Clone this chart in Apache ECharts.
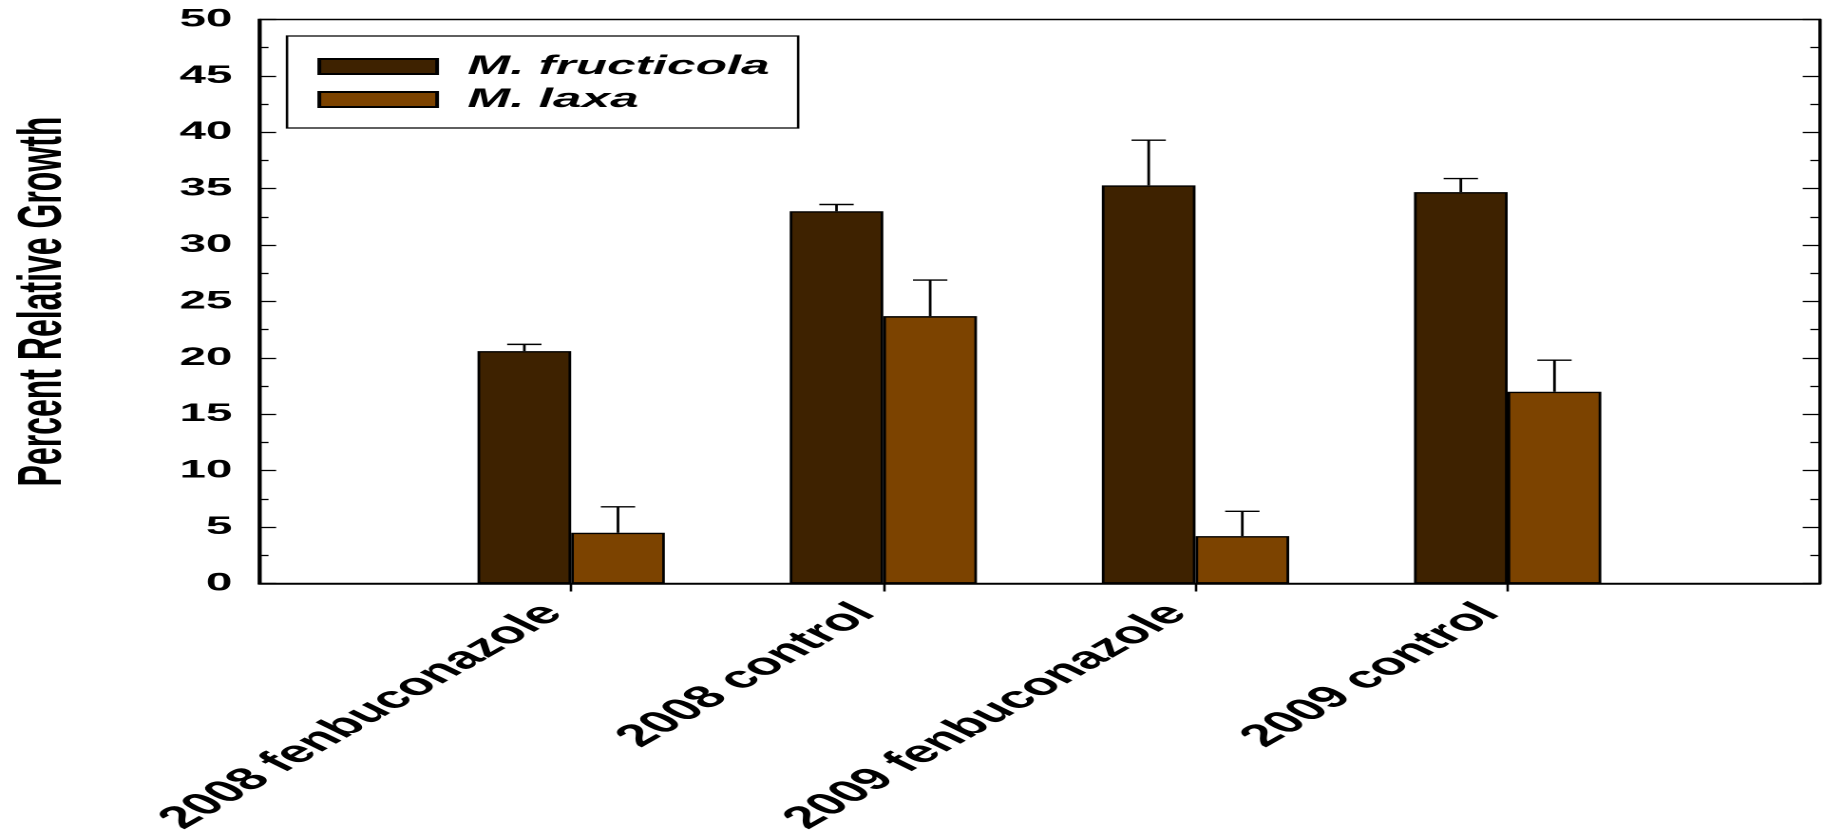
<!DOCTYPE html>
<html>
<head>
<meta charset="utf-8">
<script src="https://cdn.jsdelivr.net/npm/echarts@6/dist/echarts.min.js"></script>
<style>
	html, body { margin: 0; padding: 0; background: #fff; overflow: hidden; }
	#chart { height: 833px; transform-origin: 0 0; }
</style>
</head>
<body>
<div id="chart"></div>
<script>
	// data
	const categories = ['2008 fenbuconazole', '2008 control', '2009 fenbuconazole', '2009 control']
	const fructicola = [20.6, 33.0, 35.3, 34.7]
	const fructicolaErr = [0.6, 0.6, 4.0, 1.2]
	const laxa = [4.5, 23.7, 4.2, 17.0]
	const laxaErr = [2.3, 3.2, 2.2, 2.8]
	const yTicks = [0, 5, 10, 15, 20, 25, 30, 35, 40, 45, 50]

	// the original picture is stretched sideways, so draw narrow and stretch the same way
	const S = 1.9
	const dom = document.getElementById('chart')
	dom.style.width = (1827 / S) + 'px'
	dom.style.transform = 'scaleX(' + S + ')'

	const axisCats = [''].concat(categories, [''])
	const pad = arr => ['-'].concat(arr, ['-'])
	const font = 'Liberation Sans, Arial, sans-serif'

	function errBars(means, errs, side) {
		return {
			type: 'custom',
			silent: true,
			z: 3,
			data: means.map((m, i) => [i + 1, m, m + errs[i]]),
			renderItem(params, api) {
				const band = api.size([1, 0])[0]
				const base = api.coord([api.value(0), api.value(1)])
				const top = api.coord([api.value(0), api.value(2)])
				const x = base[0] + side * band * 0.15
				const hw = band * 0.055
				const st = { stroke: '#000', lineWidth: 1.4 }
				return {
					type: 'group',
					children: [
						{ type: 'line', shape: { x1: x, y1: base[1], x2: x, y2: top[1] }, style: st },
						{ type: 'line', shape: { x1: x - hw, y1: top[1], x2: x + hw, y2: top[1] }, style: st }
					]
				}
			}
		}
	}

	const valueAxis = (pos, labels) => ({
		type: 'value',
		position: pos,
		min: yTicks[0],
		max: yTicks[yTicks.length - 1],
		interval: yTicks[1] - yTicks[0],
		splitLine: { show: false },
		axisLine: { show: true, lineStyle: { color: '#000', width: 1.5 } },
		axisTick: { show: true, inside: true, length: 9, lineStyle: { color: '#000', width: 1.3 } },
		minorTick: { show: true, splitNumber: 2, length: 5, lineStyle: { color: '#000', width: 1.3 } },
		axisLabel: {
			show: labels, color: '#000', fontFamily: font, fontWeight: 'bold', fontSize: 25, margin: 14
		}
	})

	let mychart = echarts.init(dom, null, { devicePixelRatio: 2 })
	let option = {
		animation: false,
		backgroundColor: '#fff',
		grid: {
			left: 259 / S,
			right: (1827 - 1819) / S,
			top: 19.5,
			bottom: 833 - 583.5,
			outerBoundsMode: 'none',
			show: true,
			borderColor: '#000',
			borderWidth: 1.5
		},
		legend: {
			data: ['M. fructicola', 'M. laxa'],
			orient: 'vertical',
			left: 287 / S,
			top: 36,
			padding: [17, 15, 15, 16],
			itemWidth: 62,
			itemHeight: 15,
			itemGap: 6,
			icon: 'rect',
			borderColor: '#000',
			borderWidth: 1.3,
			textStyle: {
				color: '#000', fontFamily: font, fontWeight: 'bold', fontStyle: 'italic',
				fontSize: 27, padding: [0, 0, 0, 11]
			}
		},
		xAxis: {
			type: 'category',
			data: axisCats,
			boundaryGap: false,
			axisLine: { lineStyle: { color: '#000', width: 1.5 } },
			axisTick: {
				show: true, length: 8, interval: i => i > 0 && i < axisCats.length - 1,
				lineStyle: { color: '#000', width: 1.3 }
			},
			axisLabel: {
				interval: 0, rotate: 47, margin: 15, padding: [0, 14, 0, 0], color: '#000',
				fontFamily: font, fontWeight: 'bold', fontSize: 31
			}
		},
		yAxis: [
			Object.assign(valueAxis('left', true), {
				name: 'Percent Relative Growth',
				nameLocation: 'middle',
				nameGap: 97,
				nameTextStyle: { color: '#000', fontFamily: font, fontWeight: 'bold', fontSize: 32 }
			}),
			valueAxis('right', false)
		],
		series: [
			{
				name: 'M. fructicola',
				type: 'bar',
				data: pad(fructicola),
				barWidth: '30%',
				barGap: '0%',
				itemStyle: { color: '#3e2200', borderColor: '#000', borderWidth: 1.4 }
			},
			{
				name: 'M. laxa',
				type: 'bar',
				data: pad(laxa),
				barWidth: '30%',
				barGap: '0%',
				itemStyle: { color: '#7c4300', borderColor: '#000', borderWidth: 1.4 }
			},
			errBars(fructicola, fructicolaErr, -1),
			errBars(laxa, laxaErr, 1)
		]
	}
	mychart.setOption(option)
</script>
</body>
</html>
